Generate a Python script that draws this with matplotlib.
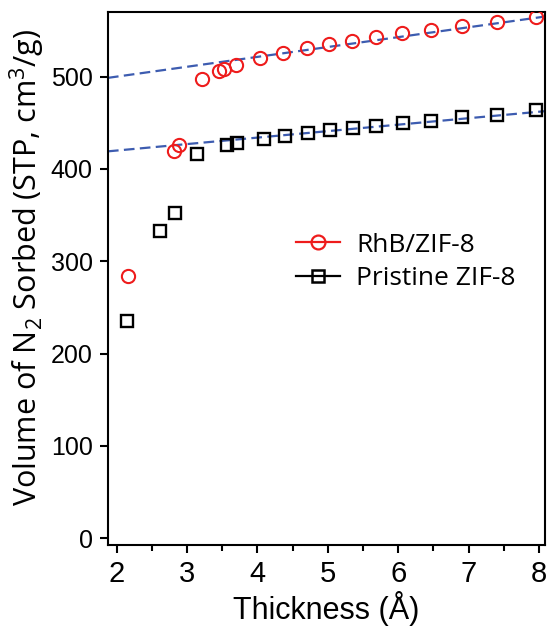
import numpy as np
import matplotlib
matplotlib.use('Agg')
from matplotlib import pyplot as plt

plt.rcParams['mathtext.fontset'] = 'custom'
plt.rcParams['mathtext.rm'] = 'Open Sans'
plt.rcParams['mathtext.default'] = 'rm'

# RhB/ZIF-8 (red circles)
rhb_x = [2.16, 2.81, 2.88, 3.21, 3.46, 3.53, 3.69, 4.04, 4.37, 4.70, 5.02, 5.35,
         5.69, 6.06, 6.47, 6.91, 7.40, 7.96]
rhb_y = [284.5, 419.6, 426, 497, 506, 508, 512, 519.6, 525.7, 530.8, 535, 539,
         542.8, 547, 550.4, 554.4, 559, 564.6]

# Pristine ZIF-8 (black squares)
zif_x = [2.15, 2.62, 2.83, 3.14, 3.57, 3.71, 4.09, 4.39, 4.72, 5.03, 5.36,
         5.69, 6.07, 6.46, 6.90, 7.40, 7.96]
zif_y = [234.7, 332.8, 352, 415.6, 425.4, 427.6, 432.3, 436, 438.9, 441.8, 444.4,
         446.9, 449.8, 452.3, 455.9, 458.9, 463.5]

# linear fit lines (end points)
fit_x = [1.877, 8.085]
rhb_fit = [498.6, 565]
zif_fit = [419, 462.5]

fig = plt.figure(figsize=(5.48, 6.28), dpi=100)
ax = fig.add_axes([0.197, 0.132, 0.7975, 0.849])

dash_blue = '#3d5cb0'
ax.plot(fit_x, rhb_fit, color=dash_blue, lw=1.6, dashes=(4.8, 2.4), zorder=1)
ax.plot(fit_x, zif_fit, color=dash_blue, lw=1.6, dashes=(4.8, 2.4), zorder=1)

ax.plot(rhb_x, rhb_y, 'o', mfc='none', mec='#ee1c1c', ms=9.5, mew=1.5, zorder=3)
ax.plot(zif_x, zif_y, 's', mfc='none', mec='black', ms=8, mew=1.7, zorder=3)

# legend proxies (line + marker)
h1, = ax.plot([], [], '-o', color='#ee1c1c', mfc='none', mec='#ee1c1c', ms=10, mew=1.6, lw=1.6)
h2, = ax.plot([], [], '-s', color='black', mfc='none', mec='black', ms=9, mew=1.8, lw=1.6)
ax.legend([h1, h2], ['RhB/ZIF-8', 'Pristine ZIF-8'], loc='upper left',
          bbox_to_anchor=(0.405, 0.606), frameon=False, handlelength=1.7,
          handletextpad=0.6, labelspacing=0.33, borderaxespad=0,
          prop={'family': 'Open Sans', 'size': 19})

ax.set_xlim(1.877, 8.085)
ax.set_ylim(-7.5, 570)
ax.set_xticks(range(2, 9))
ax.set_xticks(np.arange(2.5, 8.5, 1), minor=True)
ax.set_yticks(range(0, 600, 100))

for s in ax.spines.values():
    s.set_linewidth(1.5)
ax.tick_params(axis='both', which='major', direction='out', length=6, width=1.5)
ax.tick_params(axis='x', which='minor', direction='out', length=4.5, width=1.5)
ax.tick_params(axis='x', labelsize=21, pad=5)
ax.tick_params(axis='y', labelsize=18, pad=5)
for lab in ax.get_xticklabels() + ax.get_yticklabels():
    lab.set_family('Liberation Sans')

ax.set_xlabel('Thickness (Å)', family='Liberation Sans', fontsize=22, labelpad=2)
ax.set_ylabel('Volume of N$_2$ Sorbed (STP, cm$^3$/g)', family='Open Sans',
              fontsize=22)
ax.yaxis.set_label_coords(-0.14, 0.521)

fig.savefig('out.png', dpi=100)
